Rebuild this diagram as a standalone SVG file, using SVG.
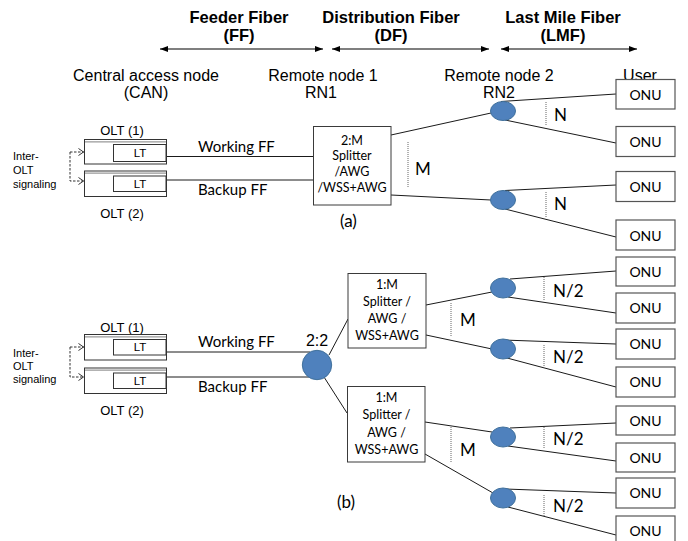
<svg xmlns="http://www.w3.org/2000/svg" width="688" height="541" viewBox="0 0 688 541">
  <style>
    .ar { font-family: "Liberation Sans", Arial, sans-serif; fill: #000; }
    .hd { font-size: 16.5px; font-weight: bold; text-anchor: middle; }
    .loc { font-size: 16px; text-anchor: middle; }
    .cb { font-family: Lato, "Liberation Sans", sans-serif; fill: #000; }
    .box { fill: #fff; stroke: #3a3a3a; stroke-width: 1; }
    .onu { fill: #fff; stroke: #555; stroke-width: 1.2; }
    .onut { font-size: 14px; text-anchor: middle; }
    .olt { fill: #fff; stroke: #333; stroke-width: 1; }
    .oltshade { stroke: #999; stroke-width: 1.2; fill: none; }
    .lt { font-size: 11.5px; text-anchor: middle; }
    .olttxt { font-size: 13px; text-anchor: middle; }
    .sig { font-size: 11px; }
    .spl { font-size: 12.5px; text-anchor: middle; }
    .ff { font-size: 15px; }
    .cnt { font-size: 17px; }
    .rn { fill: #4f81bd; stroke: #41719c; stroke-width: 1; }
    .fib { stroke: #1a1a1a; stroke-width: 1; fill: none; }
    .span { stroke: #000; stroke-width: 1.2; fill: none; }
    .dot { stroke: #666; stroke-width: 1; stroke-dasharray: 1 1; fill: none; }
    .sigl { stroke: #333; stroke-width: 1; stroke-dasharray: 2.5 1.5; fill: none; }
  </style>
  <defs>
    <marker id="ah" viewBox="0 0 8 6" refX="8" refY="3" markerWidth="8" markerHeight="6" markerUnits="userSpaceOnUse" orient="auto-start-reverse">
      <path d="M0,0 L8,3 L0,6 Z" fill="#000"/>
    </marker>
    <marker id="chev" viewBox="0 0 6 8" refX="6" refY="4" markerWidth="6" markerHeight="8" markerUnits="userSpaceOnUse" orient="auto">
      <path d="M0.5,0.5 L5.5,4 L0.5,7.5" fill="none" stroke="#333" stroke-width="1"/>
    </marker>
  </defs>

  <!-- fiber span headings -->
  <g id="spans">
    <text class="ar hd" x="239" y="23">Feeder Fiber</text>
    <text class="ar hd" x="239" y="41">(FF)</text>
    <text class="ar hd" x="391" y="23">Distribution Fiber</text>
    <text class="ar hd" x="391" y="41">(DF)</text>
    <text class="ar hd" x="563" y="23">Last Mile Fiber</text>
    <text class="ar hd" x="563" y="41">(LMF)</text>
    <line class="span" x1="160" y1="49" x2="323" y2="49" marker-start="url(#ah)" marker-end="url(#ah)"/>
    <line class="span" x1="332" y1="49" x2="489" y2="49" marker-start="url(#ah)" marker-end="url(#ah)"/>
    <line class="span" x1="501" y1="49" x2="637" y2="49" marker-start="url(#ah)" marker-end="url(#ah)"/>
  </g>
  <g id="locations">
    <text class="ar loc" x="146" y="81">Central access node</text>
    <text class="ar loc" x="146" y="98">(CAN)</text>
    <text class="ar loc" x="323" y="81">Remote node 1</text>
    <text class="ar loc" x="321" y="98">RN1</text>
    <text class="ar loc" x="499" y="81">Remote node 2</text>
    <text class="ar loc" x="499" y="98">RN2</text>
    <text class="ar loc" x="640" y="81">User</text>
  </g>

  <!-- fibers and signaling links -->
  <g id="connectors">
    <!-- (a) -->
    <polyline class="sigl" points="70,152 70,181 84,181" marker-end="url(#chev)"/>
    <line class="sigl" x1="70" y1="152" x2="84" y2="152" marker-end="url(#chev)"/>
    <line class="fib" x1="166" y1="156.5" x2="313" y2="156.5"/>
    <line class="fib" x1="166" y1="180" x2="313" y2="180"/>
    <line class="fib" x1="391" y1="135" x2="491" y2="113"/>
    <line class="fib" x1="391" y1="195" x2="491" y2="200"/>
    <line class="fib" x1="501" y1="101.5" x2="616" y2="94"/>
    <line class="fib" x1="505" y1="120" x2="616" y2="143"/>
    <line class="fib" x1="505" y1="190.5" x2="616" y2="185"/>
    <line class="fib" x1="505" y1="209" x2="616" y2="237"/>
    <!-- (b) -->
    <polyline class="sigl" points="70,347 70,377 84,377" marker-end="url(#chev)"/>
    <line class="sigl" x1="70" y1="347" x2="84" y2="347" marker-end="url(#chev)"/>
    <line class="fib" x1="166" y1="352" x2="310" y2="352"/>
    <line class="fib" x1="166" y1="377" x2="310" y2="377"/>
    <line class="fib" x1="329" y1="355" x2="348" y2="319"/>
    <line class="fib" x1="324" y1="377" x2="347" y2="413"/>
    <line class="fib" x1="426" y1="305" x2="492" y2="292"/>
    <line class="fib" x1="426" y1="335" x2="492" y2="349"/>
    <line class="fib" x1="425" y1="422" x2="492" y2="432"/>
    <line class="fib" x1="425" y1="454" x2="493" y2="493"/>
    <line class="fib" x1="510" y1="279" x2="616" y2="271"/>
    <line class="fib" x1="508" y1="297" x2="616" y2="313"/>
    <line class="fib" x1="503" y1="340" x2="616" y2="344"/>
    <line class="fib" x1="507" y1="358" x2="616" y2="387"/>
    <line class="fib" x1="510" y1="428" x2="616" y2="423"/>
    <line class="fib" x1="508" y1="446" x2="616" y2="461"/>
    <line class="fib" x1="505" y1="489" x2="616" y2="493"/>
    <line class="fib" x1="508" y1="507" x2="616" y2="535"/>
  </g>

  <!-- fan-out markers -->
  <g id="fanout">
    <line class="dot" x1="408" y1="142" x2="408" y2="187"/>
    <text class="cb cnt" x="415" y="175">M</text>
    <line class="dot" x1="546" y1="102" x2="546" y2="125"/>
    <text class="cb cnt" x="554" y="121">N</text>
    <line class="dot" x1="546" y1="192" x2="546" y2="217"/>
    <text class="cb cnt" x="554" y="210">N</text>

    <line class="dot" x1="451" y1="303" x2="451" y2="337"/>
    <text class="cb cnt" x="460" y="326">M</text>
    <line class="dot" x1="451" y1="427" x2="451" y2="463"/>
    <text class="cb cnt" x="460" y="456">M</text>
    <line class="dot" x1="544" y1="277" x2="544" y2="301"/>
    <text class="cb cnt" x="553" y="297">N/2</text>
    <line class="dot" x1="544" y1="345" x2="544" y2="367"/>
    <text class="cb cnt" x="553" y="363">N/2</text>
    <line class="dot" x1="544" y1="427" x2="544" y2="448"/>
    <text class="cb cnt" x="553" y="445">N/2</text>
    <line class="dot" x1="544" y1="495" x2="544" y2="517"/>
    <text class="cb cnt" x="553" y="512">N/2</text>
  </g>

  <!-- (a) dedicated feeder fibers to a 2:M remote node -->
  <g id="signaling-a">
    <text class="ar sig" x="13" y="160">Inter-</text>
    <text class="ar sig" x="13" y="174">OLT</text>
    <text class="ar sig" x="13" y="188">signaling</text>
  </g>
  <g id="olt1-a">
    <text class="ar olttxt" x="122" y="135">OLT (1)</text>
    <rect class="olt" x="84.5" y="139.5" width="82" height="24.5"/>
    <line class="oltshade" x1="85" y1="141.8" x2="166" y2="141.8"/>
    <rect class="olt" x="113.5" y="144.5" width="52.5" height="17"/>
    <text class="ar lt" x="140" y="157">LT</text>
  </g>
  <g id="olt2-a">
    <rect class="olt" x="84.5" y="171" width="82" height="25.5"/>
    <line class="oltshade" x1="85" y1="173.2" x2="166" y2="173.2"/>
    <rect class="olt" x="113.5" y="176" width="52.5" height="15.5"/>
    <text class="ar lt" x="140" y="188">LT</text>
    <text class="ar olttxt" x="122" y="218">OLT (2)</text>
  </g>
  <g id="working-ff-a"><text class="cb ff" x="198" y="152">Working FF</text></g>
  <g id="backup-ff-a"><text class="cb ff" x="198" y="195">Backup FF</text></g>
  <g id="rn1-a">
    <rect class="box" x="313.5" y="126.5" width="77.5" height="78.5"/>
    <text class="cb spl" x="352" y="145">2:M</text>
    <text class="cb spl" x="352" y="160">Splitter</text>
    <text class="cb spl" x="352" y="176">/AWG</text>
    <text class="cb spl" x="352" y="192">/WSS+AWG</text>
  </g>
  <g id="rn2-a1"><ellipse class="rn" cx="503" cy="111" rx="12.5" ry="9.5"/></g>
  <g id="rn2-a2"><ellipse class="rn" cx="503" cy="200" rx="12.5" ry="9.5"/></g>
  <g id="onu-a1"><rect class="onu" x="616" y="79.5" width="59" height="29.5"/><text class="cb onut" x="645.5" y="100">ONU</text></g>
  <g id="onu-a2"><rect class="onu" x="616" y="126.5" width="59" height="30"/><text class="cb onut" x="645.5" y="147">ONU</text></g>
  <g id="onu-a3"><rect class="onu" x="616" y="171.5" width="59" height="30"/><text class="cb onut" x="645.5" y="192">ONU</text></g>
  <g id="onu-a4"><rect class="onu" x="616" y="220" width="59" height="30"/><text class="cb onut" x="645.5" y="241">ONU</text></g>
  <g id="label-a"><text class="cb cnt" x="340" y="227">(a)</text></g>

  <!-- (b) shared feeder pair through a 2:2 coupler -->
  <g id="signaling-b">
    <text class="ar sig" x="13" y="357">Inter-</text>
    <text class="ar sig" x="13" y="370">OLT</text>
    <text class="ar sig" x="13" y="383">signaling</text>
  </g>
  <g id="olt1-b">
    <text class="ar olttxt" x="122" y="332">OLT (1)</text>
    <rect class="olt" x="84.5" y="334.5" width="82" height="25.5"/>
    <line class="oltshade" x1="85" y1="336.8" x2="166" y2="336.8"/>
    <rect class="olt" x="113.5" y="339.5" width="52.5" height="15.5"/>
    <text class="ar lt" x="140" y="351">LT</text>
  </g>
  <g id="olt2-b">
    <rect class="olt" x="84.5" y="368" width="82" height="25.5"/>
    <line class="oltshade" x1="85" y1="370.2" x2="166" y2="370.2"/>
    <rect class="olt" x="113.5" y="373" width="52.5" height="15.5"/>
    <text class="ar lt" x="140" y="385">LT</text>
    <text class="ar olttxt" x="122" y="415">OLT (2)</text>
  </g>
  <g id="working-ff-b"><text class="cb ff" x="198" y="347">Working FF</text></g>
  <g id="backup-ff-b"><text class="cb ff" x="198" y="392">Backup FF</text></g>
  <g id="coupler-b">
    <text class="ar loc" x="317" y="346">2:2</text>
    <circle class="rn" cx="317" cy="365" r="14.7"/>
  </g>
  <g id="rn1-b1">
    <rect class="box" x="348" y="273.5" width="78" height="74.5"/>
    <text class="cb spl" x="387" y="289">1:M</text>
    <text class="cb spl" x="387" y="306">Splitter /</text>
    <text class="cb spl" x="387" y="323">AWG /</text>
    <text class="cb spl" x="387" y="340">WSS+AWG</text>
  </g>
  <g id="rn1-b2">
    <rect class="box" x="347.5" y="386.5" width="77.5" height="75.5"/>
    <text class="cb spl" x="386.5" y="402">1:M</text>
    <text class="cb spl" x="386.5" y="419">Splitter /</text>
    <text class="cb spl" x="386.5" y="436.5">AWG /</text>
    <text class="cb spl" x="386.5" y="454">WSS+AWG</text>
  </g>
  <g id="rn2-b1"><ellipse class="rn" cx="503" cy="288" rx="12.5" ry="10"/></g>
  <g id="rn2-b2"><ellipse class="rn" cx="503" cy="349" rx="12.5" ry="10"/></g>
  <g id="rn2-b3"><ellipse class="rn" cx="503" cy="437" rx="12.5" ry="10"/></g>
  <g id="rn2-b4"><ellipse class="rn" cx="503" cy="498" rx="12.5" ry="10"/></g>
  <g id="onu-b1"><rect class="onu" x="616" y="257" width="59" height="29"/><text class="cb onut" x="645.5" y="277">ONU</text></g>
  <g id="onu-b2"><rect class="onu" x="616" y="293" width="59" height="30"/><text class="cb onut" x="645.5" y="313">ONU</text></g>
  <g id="onu-b3"><rect class="onu" x="616" y="329" width="59" height="30"/><text class="cb onut" x="645.5" y="349">ONU</text></g>
  <g id="onu-b4"><rect class="onu" x="616" y="367" width="59" height="30"/><text class="cb onut" x="645.5" y="387">ONU</text></g>
  <g id="onu-b5"><rect class="onu" x="616" y="406" width="59" height="29"/><text class="cb onut" x="645.5" y="426">ONU</text></g>
  <g id="onu-b6"><rect class="onu" x="616" y="443" width="59" height="29"/><text class="cb onut" x="645.5" y="463">ONU</text></g>
  <g id="onu-b7"><rect class="onu" x="616" y="478" width="59" height="30"/><text class="cb onut" x="645.5" y="498">ONU</text></g>
  <g id="onu-b8"><rect class="onu" x="616" y="516" width="59" height="30"/><text class="cb onut" x="645.5" y="536">ONU</text></g>
  <g id="label-b"><text class="cb cnt" x="337" y="508">(b)</text></g>
</svg>
